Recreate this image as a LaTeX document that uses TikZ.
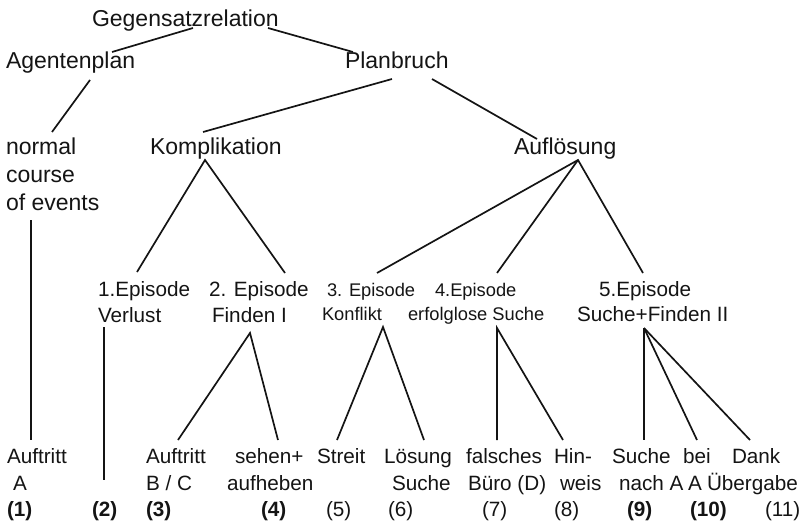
\documentclass[tikz,border=0pt]{standalone}
\usepackage{fontspec}
\setmainfont{Liberation Sans}
\begin{document}
\begin{tikzpicture}[x=1pt,y=-1pt,
  txt/.style={anchor=base west,inner sep=0pt,outer sep=0pt,text=black!92},
  big/.style={txt,font=\fontsize{23}{27}\selectfont},
  mid/.style={txt,font=\fontsize{20.7}{25}\selectfont},
  small/.style={txt,font=\fontsize{18.3}{22}\selectfont},
  numb/.style={mid,font=\fontsize{20.7}{25}\selectfont\bfseries},
  edge/.style={draw=black!92,line width=1.7pt}]
\useasboundingbox (0,0) rectangle (810,524);

% upper levels
\node[big] (gegen) at (92,27) {Gegensatzrelation};
\node[big] (agent) at (6,69) {Agentenplan};
\node[big] (plan) at (345,69) {Planbruch};
\node[big] (norm1) at (6,154) {normal};
\node[big] (norm2) at (6,182) {course};
\node[big] (norm3) at (6,210) {of events};
\node[big] (kompl) at (150,154) {Komplikation};
\node[big] (aufl) at (514,154) {Auflösung};

% episodes
\node[mid] (e1a) at (98,296) {1.Episode};
\node[mid] (e1b) at (98,322) {Verlust};
\node[mid] (e2a) at (209,296) {2. Episode};
\node[mid] (e2b) at (212,322) {Finden I};
\node[small] (e3a) at (327,296) {3. Episode};
\node[small] (e3b) at (322,320) {Konflikt};
\node[small] (e4a) at (435,296) {4.Episode};
\node[small] (e4b) at (408,320) {erfolglose Suche};
\node[mid] (e5a) at (599,296) {5.Episode};
\node[mid] (e5b) at (577,321) {Suche+Finden II};

% leaves
\node[mid] (b1a) at (7,463) {Auftritt};
\node[mid] (b1b) at (13,490) {A};
\node[numb] (n1) at (7,516) {(1)};
\node[numb] (n2) at (92,516) {(2)};
\node[mid] (b3a) at (146,463) {Auftritt};
\node[mid] (b3b) at (146,490) {B / C};
\node[numb] (n3) at (146,516) {(3)};
\node[mid] (b4a) at (235,463) {sehen+};
\node[mid] (b4b) at (227,490) {aufheben};
\node[numb] (n4) at (261,516) {(4)};
\node[mid] (b5a) at (317,463) {Streit};
\node[mid] (n5) at (326,516) {(5)};
\node[mid] (b6a) at (384,463) {Lösung};
\node[mid] (b6b) at (392,490) {Suche};
\node[mid] (n6) at (388,516) {(6)};
\node[mid] (b7a) at (466,463) {falsches};
\node[mid] (b7b) at (468,490) {Büro (D)};
\node[mid] (n7) at (482,516) {(7)};
\node[mid] (b8a) at (554,463) {Hin-};
\node[mid] (b8b) at (560,490) {weis};
\node[mid] (n8) at (554,516) {(8)};
\node[mid] (b9a) at (612,463) {Suche};
\node[mid] (b9b) at (619,490) {nach A};
\node[numb] (n9) at (627,516) {(9)};
\node[mid] (b10a) at (683,463) {bei};
\node[mid] (b10b) at (688,490) {A};
\node[numb] (n10) at (690,516) {(10)};
\node[mid] (b11a) at (732,463) {Dank};
\node[mid] (b11b) at (707,490) {Übergabe};
\node[mid] (n11) at (765,516) {(11)};

% tree edges
\draw[edge] ([shift={(101,1)}]gegen.base west) -- ([shift={(106,-17)}]agent.base west);
\draw[edge] ([shift={(176,1)}]gegen.base west) -- ([shift={(8,-17)}]plan.base west);
\draw[edge] ([shift={(84,11)}]agent.base west) -- ([shift={(46,-22)}]norm1.base west);
\draw[edge] ([shift={(47,10)}]plan.base west) -- ([shift={(53,-22)}]kompl.base west);
\draw[edge] ([shift={(87,10)}]plan.base west) -- ([shift={(23,-15)}]aufl.base west);
\draw[edge] ([shift={(39,-24)}]e1a.base west) -- ([shift={(55,6)}]kompl.base west)
  -- ([shift={(76,-23)}]e2a.base west);
\draw[edge] ([shift={(50,-23)}]e3a.base west) -- ([shift={(64,6)}]aufl.base west)
  -- ([shift={(44,-23)}]e5a.base west);
\draw[edge] ([shift={(64,6)}]aufl.base west) -- ([shift={(62,-23)}]e4a.base west);
\draw[edge] ([shift={(25,10)}]norm3.base west) -- ([shift={(24,-23)}]b1a.base west);
\draw[edge] ([shift={(6,5)}]e1b.base west) -- ([shift={(12,-36)}]n2.base west);
\draw[edge] ([shift={(32,-23)}]b3a.base west) -- ([shift={(38,11)}]e2b.base west)
  -- ([shift={(43,-23)}]b4a.base west);
\draw[edge] ([shift={(20,-23)}]b5a.base west) -- ([shift={(61,7)}]e3b.base west)
  -- ([shift={(40,-23)}]b6a.base west);
\draw[edge] ([shift={(31,-23)}]b7a.base west) -- ([shift={(89,8)}]e4b.base west)
  -- ([shift={(9,-23)}]b8a.base west);
\draw[edge] ([shift={(67,7)}]e5b.base west) -- ([shift={(32,-23)}]b9a.base west);
\draw[edge] ([shift={(67,7)}]e5b.base west) -- ([shift={(14,-23)}]b10a.base west);
\draw[edge] ([shift={(67,7)}]e5b.base west) -- ([shift={(18,-23)}]b11a.base west);
\end{tikzpicture}
\end{document}
